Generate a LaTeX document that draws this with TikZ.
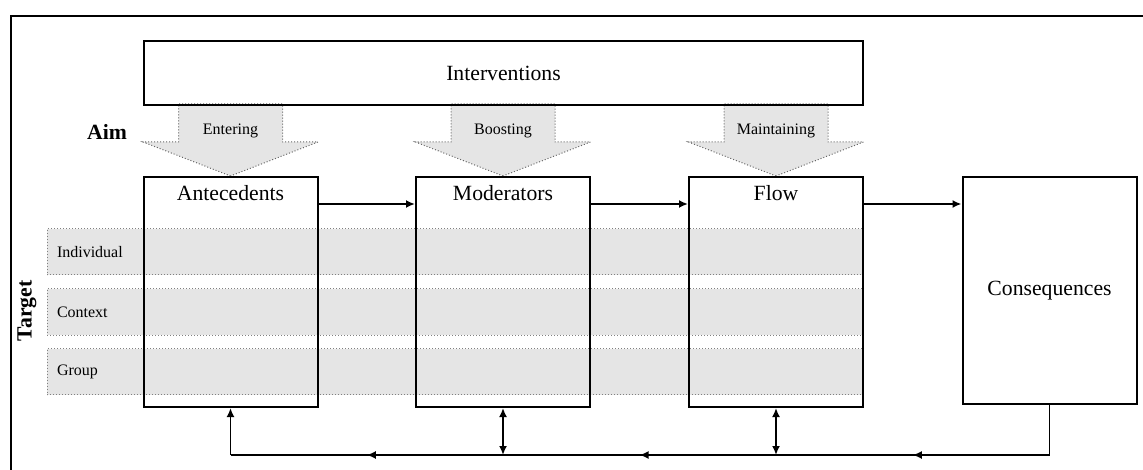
\documentclass[tikz,border=0pt]{standalone}
\usepackage{fontspec}
\setmainfont{Liberation Serif}
\usetikzlibrary{arrows.meta,calc,positioning,backgrounds}

\newcommand{\boxfont}{\fontsize{21.7}{26}\selectfont}
\newcommand{\tagfont}{\fontsize{16}{19}\selectfont}

\begin{document}
\begin{tikzpicture}[x=1pt,y=-1pt]
\tikzstyle{block} = [rectangle, draw=black, line width=2pt, inner sep=0pt,
minimum width=174pt, minimum height=230pt]
\tikzstyle{title} = [font=\boxfont, inner sep=2pt]
\tikzstyle{band} = [rectangle, draw=gray, line width=1pt, dotted, fill=gray!20, font=\tagfont,
minimum width=815pt, minimum height=46pt, text width=795pt, inner xsep=10pt, align=left]
\tikzstyle{aim} = [draw=gray!80!black, line width=1pt, dotted, fill=gray!20]
\tikzstyle{tag} = [font=\tagfont, inner sep=1pt]
\tikzstyle{line} = [draw, line width=1.8pt, -{Latex[length=9pt,width=8pt]}]

\useasboundingbox (0,0) rectangle (1143,470);
% frame
\draw[line width=2.6pt] (11,470) -- (11,16) -- (1143,16);

% interventions
\node [rectangle, draw, line width=2pt, minimum width=719pt, minimum height=64pt,
font=\boxfont] (interv) at (503.5,73) {Interventions};

% row of boxes
\node [block] (ante) at (230.5,292) {};
\node [block] (mod) at (503,292) {};
\node [block] (flow) at (776,292) {};
\node [block, minimum height=227pt] (cons) at (1049.5,290.5) {};
\node [title, below=7pt of ante.north] (antetext) {Antecedents};
\node [title, below=7pt of mod.north] (modtext) {Moderators};
\node [title, below=7pt of flow.north] (flowtext) {Flow};
\node [title] (constext) at (cons) {Consequences};

% side labels
\node [font=\boxfont\bfseries] (aimtext) at (107,132) {Aim};
\node [font=\boxfont\bfseries, rotate=90] (target) at (27,311) {Target};

\begin{scope}[on background layer]
% targets
\node [band] (indiv) at (454.5,252) {Individual};
\node [band] (context) at (454.5,312) {Context};
\node [band] (group) at (454.5,371.5) {Group};
% aims
\draw[aim] (ante.north) -- ++(-87.5,-34) -- ++(35.5,0) -- ++(0,-38) -- ++(104,0)
  -- ++(0,38) -- ++(35.5,0) -- cycle;
\draw[aim] (mod.north) -- ++(-87.5,-34) -- ++(35.5,0) -- ++(0,-38) -- ++(104,0)
  -- ++(0,38) -- ++(35.5,0) -- cycle;
\draw[aim] (flow.north) -- ++(-87.5,-34) -- ++(35.5,0) -- ++(0,-38) -- ++(104,0)
  -- ++(0,38) -- ++(35.5,0) -- cycle;
\end{scope}
\node [tag] (entering) at ($(ante.north)+(0,-45)$) {Entering};
\node [tag] (boosting) at ($(mod.north)+(0,-45)$) {Boosting};
\node [tag] (maintaining) at ($(flow.north)+(0,-45)$) {Maintaining};

% process arrows
\path [line] ($(ante.north east)+(0,28)$) -- ($(mod.north west)+(0,28)$);
\path [line] ($(mod.north east)+(0,28)$) -- ($(flow.north west)+(0,28)$);
\path [line] ($(flow.north east)+(0,28)$) -- ($(cons.north west)+(0,28)$);

% feedback loop
\coordinate (base) at (0,455);
\coordinate (b1) at (ante.south |- base);
\coordinate (b2) at (mod.south |- base);
\coordinate (b3) at (flow.south |- base);
\coordinate (b4) at (cons.south |- base);
\draw [line width=1.8pt] (cons.south) -- (b4) -- (b1);
\path [line] (b4) -- ($(b4)!0.5!(b3)$);
\path [line] (b3) -- ($(b3)!0.5!(b2)$);
\path [line] (b2) -- ($(b2)!0.5!(b1)$);
\path [line] (b1) -- (ante.south);
\path [line, {Latex[length=9pt,width=8pt]}-{Latex[length=9pt,width=8pt]}] (mod.south) -- (b2);
\path [line, {Latex[length=9pt,width=8pt]}-{Latex[length=9pt,width=8pt]}] (flow.south) -- (b3);
\end{tikzpicture}
\end{document}
